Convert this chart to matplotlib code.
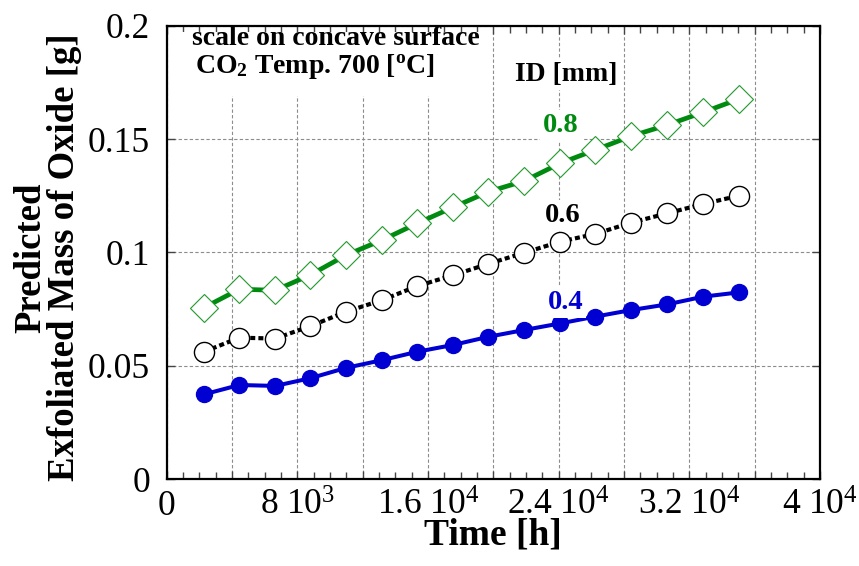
import matplotlib
matplotlib.use("Agg")
import matplotlib.pyplot as plt
from matplotlib.ticker import FixedLocator, MultipleLocator
from matplotlib.patches import Rectangle

plt.rcParams['font.family'] = ['Liberation Serif', 'DejaVu Serif']
plt.rcParams['mathtext.fontset'] = 'custom'
plt.rcParams['mathtext.rm'] = 'Liberation Serif'
plt.rcParams['mathtext.bf'] = 'Liberation Serif:bold'
plt.rcParams['mathtext.it'] = 'Liberation Serif:italic'

# Time [h] of each prediction
time_h = [2300, 4450, 6650, 8800, 11000, 13200, 15350, 17550,
          19700, 21900, 24100, 26250, 28450, 30650, 32850, 35050]

# Predicted exfoliated mass [g] for each inner diameter
mass_id08 = [0.0757, 0.0838, 0.0833, 0.0901, 0.0989, 0.1055, 0.1129, 0.1200,
             0.1268, 0.1316, 0.1394, 0.1453, 0.1514, 0.1563, 0.1619, 0.1678]
mass_id06 = [0.0562, 0.0624, 0.0620, 0.0675, 0.0739, 0.0790, 0.0852, 0.0900,
             0.0950, 0.0999, 0.1048, 0.1082, 0.1132, 0.1173, 0.1214, 0.1251]
mass_id04 = [0.0374, 0.0415, 0.0411, 0.0445, 0.0491, 0.0525, 0.0562, 0.0592,
             0.0628, 0.0658, 0.0687, 0.0717, 0.0746, 0.0771, 0.0805, 0.0824]

x_major = [0, 4000, 8000, 12000, 16000, 20000, 24000, 28000, 32000, 36000, 40000]
x_labels = ['0', '', r'$\mathregular{8\ 10^{3}}$', '', r'$\mathregular{1.6\ 10^{4}}$', '',
            r'$\mathregular{2.4\ 10^{4}}$', '', r'$\mathregular{3.2\ 10^{4}}$', '',
            r'$\mathregular{4\ 10^{4}}$']
y_major = [0, 0.05, 0.1, 0.15, 0.2]
y_labels = ['0', '0.05', '0.1', '0.15', '0.2']

GREEN = '#008a10'
BLUE = '#0000d2'

fig = plt.figure(figsize=(8.59, 5.66), dpi=100)
ax = fig.add_axes([0.194, 0.1537, 0.7606, 0.8004])

ax.set_xlim(0, 40000)
ax.set_ylim(0, 0.2)

ax.xaxis.set_major_locator(FixedLocator(x_major))
ax.set_xticklabels(x_labels)
ax.xaxis.set_minor_locator(MultipleLocator(1000))
ax.yaxis.set_major_locator(FixedLocator(y_major))
ax.set_yticklabels(y_labels)

ax.tick_params(axis='both', which='both', direction='in', top=True, right=True,
               labelsize=25.5, width=1.0, color='#444444')
ax.tick_params(axis='x', which='major', length=6, pad=8)
ax.tick_params(axis='x', which='minor', length=5)
ax.tick_params(axis='y', which='major', length=6, pad=12)

for s in ax.spines.values():
    s.set_linewidth(1.6)
    s.set_color('black')

ax.set_axisbelow(True)
ax.grid(True, which='major', color='#8c8c8c', linestyle=(0, (3, 2)), linewidth=0.8)

# white panel behind the condition notes
ax.add_patch(Rectangle((0.004, 0.845), 0.486, 0.142, transform=ax.transAxes,
                       facecolor='white', edgecolor='none', zorder=1))

ax.plot(time_h, mass_id08, color=GREEN, linewidth=3.4, marker='D', markersize=14,
        markerfacecolor='white', markeredgecolor='#1f9a2a', markeredgewidth=0.8, zorder=3)
ax.plot(time_h, mass_id06, color='black', linewidth=3.0, linestyle=(0, (1.2, 0.75)),
        dash_capstyle='butt', marker='o', markersize=14.5, markerfacecolor='white',
        markeredgecolor='black', markeredgewidth=1.0, zorder=3)
ax.plot(time_h, mass_id04, color=BLUE, linewidth=2.9, marker='o', markersize=11.5,
        markerfacecolor=BLUE, markeredgecolor=BLUE, zorder=3)

ax.set_xlabel('Time [h]', fontsize=27, fontweight='bold', labelpad=-4)
fig.text(0.055, 0.545, 'Predicted\nExfoliated Mass of Oxide [g]', rotation=90,
         fontsize=26.5, fontweight='bold', ha='center', va='center',
         multialignment='center', linespacing=0.95)

ax.text(10380, 0.1916, 'scale on concave surface', fontsize=20, fontweight='bold',
        ha='center', va='baseline', zorder=4)
ax.text(1733, 0.1793, r'$\mathbf{CO_{2}}$ Temp. 700 [$\mathbf{^{o}}$C]', fontsize=20,
        fontweight='bold', ha='left', va='baseline', zorder=4)

lab_box = dict(facecolor='white', edgecolor='none', pad=2)
ax.text(21327, 0.1757, 'ID [mm]', fontsize=20, fontweight='bold', ha='left',
        va='baseline', bbox=lab_box, zorder=4)
ax.text(23040, 0.1533, '0.8', fontsize=20.5, fontweight='bold', color=GREEN,
        ha='left', va='baseline', bbox=lab_box, zorder=4)
ax.text(23163, 0.1135, '0.6', fontsize=20.5, fontweight='bold', color='black',
        ha='left', va='baseline', bbox=lab_box, zorder=4)
ax.text(23347, 0.0751, '0.4', fontsize=20.5, fontweight='bold', color=BLUE,
        ha='left', va='baseline', bbox=lab_box, zorder=4)

fig.savefig('out.png', dpi=100)
